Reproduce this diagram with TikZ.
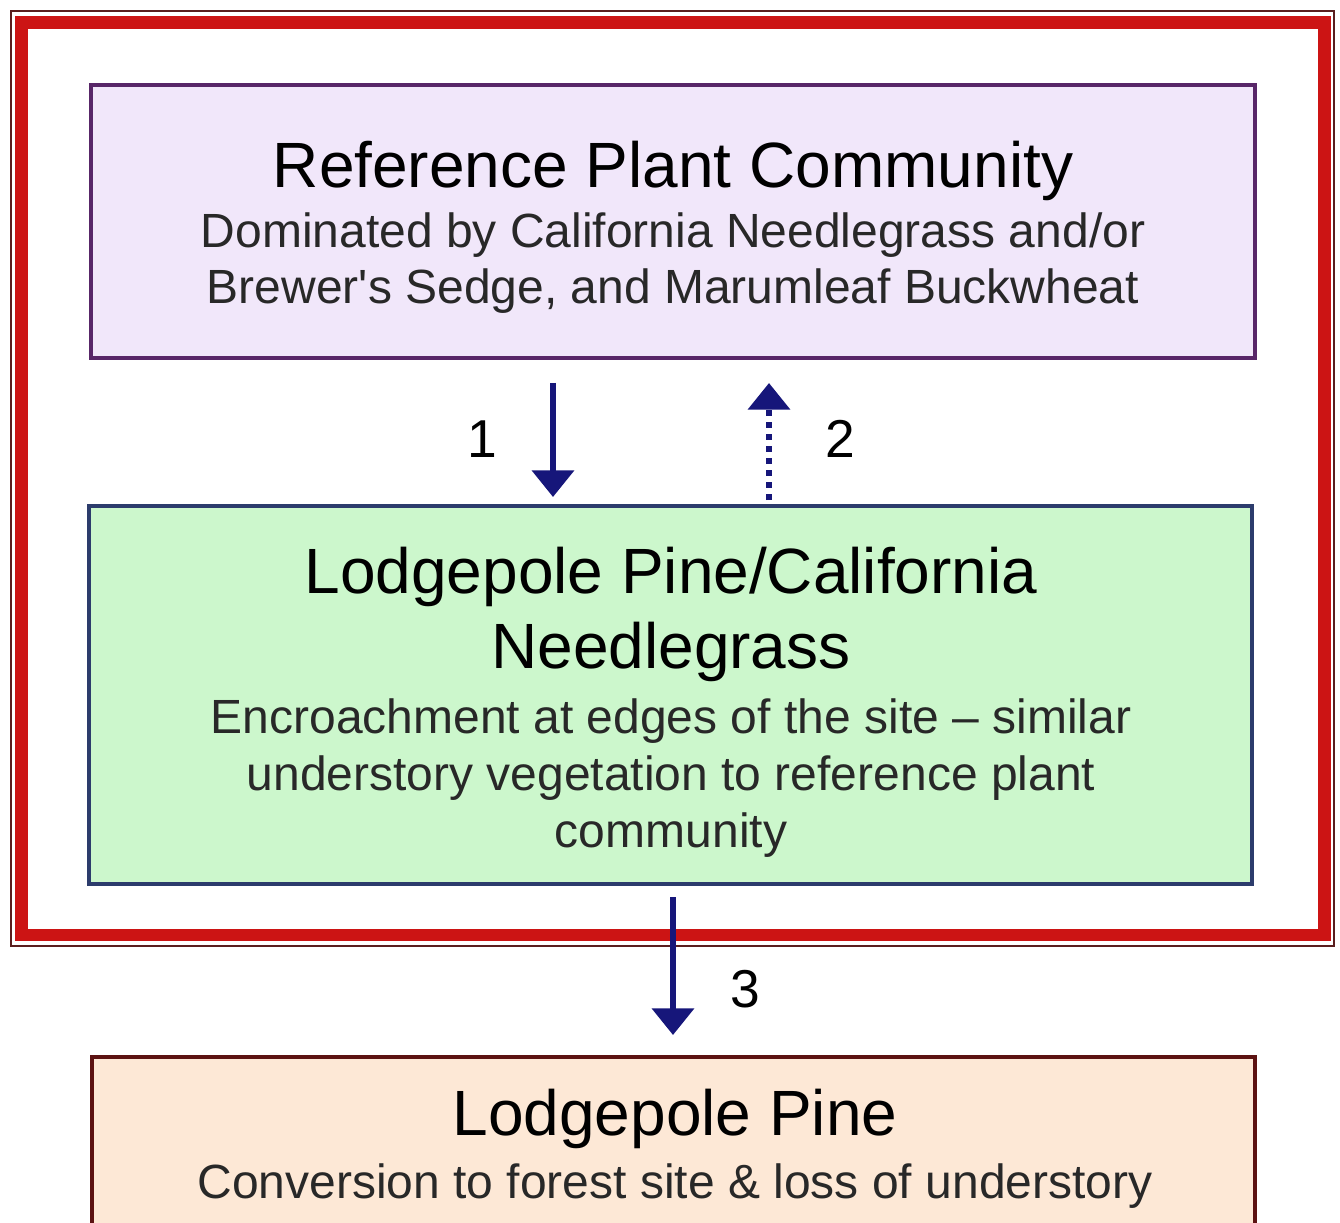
\documentclass[tikz,border=0pt]{standalone}
\usepackage{fontspec}
\setmainfont[Ligatures=TeXOff]{Liberation Sans}
\usetikzlibrary{arrows.meta,fit}
\definecolor{framered}{RGB}{204,20,20}
\definecolor{framedark}{RGB}{90,30,30}
\definecolor{pfill}{RGB}{241,231,250}
\definecolor{pline}{RGB}{88,38,104}
\definecolor{gfill}{RGB}{204,247,204}
\definecolor{gline}{RGB}{44,60,108}
\definecolor{lfill}{RGB}{253,232,214}
\definecolor{lline}{RGB}{92,18,18}
\definecolor{navy}{RGB}{22,22,122}
\definecolor{desc}{RGB}{40,40,40}
\tikzset{
  boxshape/.style={rectangle, inner sep=0pt, outer sep=0pt, line width=3.6pt},
  titletext/.style={anchor=base, inner sep=0pt, text=black, font=\fontsize{48}{56}\selectfont},
  desctext/.style={anchor=base, inner sep=0pt, text=desc, font=\fontsize{36}{42}\selectfont},
  numtext/.style={anchor=base, inner sep=0pt, text=black, font=\fontsize{40}{48}\selectfont},
  arr/.style={draw=navy, line width=4.5pt, -{Triangle[width=31pt,length=20pt]}},
  arrdot/.style={arr, dash pattern=on 4.5pt off 4.5pt},
}
\begin{document}
\begin{tikzpicture}[x=0.75pt,y=-0.75pt]
\clip (0,0) rectangle (1340,1223);
\fill[white] (0,0) rectangle (1340,1223);
% outer frame
\draw[framedark, line width=1.2pt] (11,11) rectangle (1334,946);
\draw[framered, line width=9.5pt] (21.5,22.5) rectangle (1324.5,935);
% boxes
\node[boxshape, draw=pline, fill=pfill, fit={(91,85) (1255,358)}] (pb) {};
\node[boxshape, draw=gline, fill=gfill, fit={(89,506) (1252,884)}] (gb) {};
\node[boxshape, draw=lline, fill=lfill, fit={(92,1057) (1255,1330)}] (lb) {};
% texts
\node[titletext] (pt) at (673,188) {Reference Plant Community};
\node[desctext] (pd1) at (673,248) {Dominated by California Needlegrass and/or};
\node[desctext] (pd2) at (673,304) {Brewer's Sedge, and Marumleaf Buckwheat};
\node[titletext] (gt1) at (671,593) {Lodgepole Pine/California};
\node[titletext] (gt2) at (671,668) {Needlegrass};
\node[desctext] (gd1) at (671,733) {Encroachment at edges of the site – similar};
\node[desctext] (gd2) at (671,790) {understory vegetation to reference plant};
\node[desctext] (gd3) at (671,847) {community};
\node[titletext] (lt) at (675,1135) {Lodgepole Pine};
\node[desctext] (ld) at (675,1198) {Conversion to forest site \& loss of understory};
% arrows
\coordinate (x1) at (553,0);
\coordinate (x2) at (769,0);
\coordinate (x3) at (673,0);
\draw[arr, shorten <=18.75pt, shorten >=6.75pt] (pb.south -| x1) -- (gb.north -| x1);
\draw[arrdot, shorten <=4.5pt, shorten >=18.75pt] (gb.north -| x2) -- (pb.south -| x2);
\draw[arr, shorten <=9.75pt, shorten >=16.5pt] (gb.south -| x3) -- (lb.north -| x3);
\node[numtext] (n1) at (482,458) {1};
\node[numtext] (n2) at (840,458) {2};
\node[numtext] (n3) at (745,1007) {3};
\end{tikzpicture}
\end{document}
